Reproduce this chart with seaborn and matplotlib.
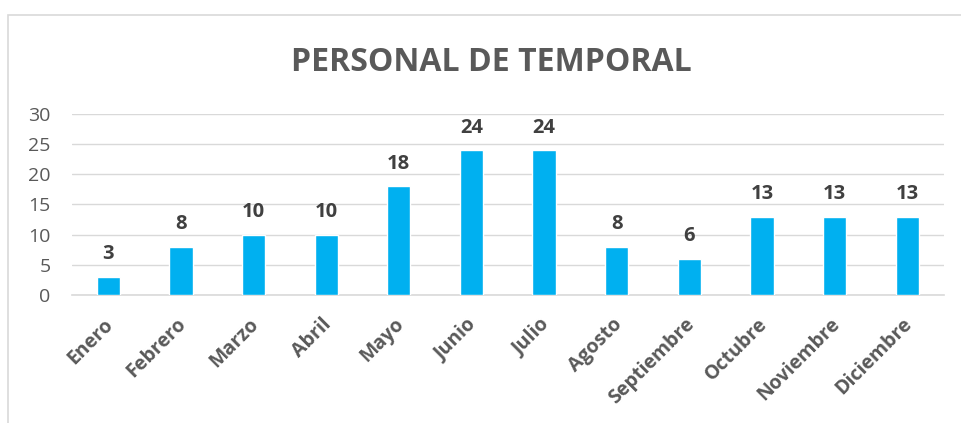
import matplotlib
matplotlib.use("Agg")
import matplotlib.pyplot as plt
import matplotlib.transforms as mtransforms
import seaborn as sns
import pandas as pd
from matplotlib.patches import Rectangle

meses = ["Enero", "Febrero", "Marzo", "Abril", "Mayo", "Junio", "Julio",
         "Agosto", "Septiembre", "Octubre", "Noviembre", "Diciembre"]
personal = [3, 8, 10, 10, 18, 24, 24, 8, 6, 13, 13, 13]
y_ticks = [0, 5, 10, 15, 20, 25, 30]

sns.set_style("white")
plt.rcParams["font.family"] = ["Open Sans", "DejaVu Sans"]

df = pd.DataFrame({"mes": meses, "personal": personal})

fig = plt.figure(figsize=(9.61, 4.23), dpi=100)
ax = fig.add_axes([0.0749, 0.3026, 0.907, 0.4279])

sns.barplot(data=df, x="mes", y="personal", color="#00B0F0", width=0.32,
            saturation=1, ax=ax, zorder=3)

ax.set_ylim(0, 30)
ax.set_yticks(y_ticks)
ax.set_xlim(-0.5, len(meses) - 0.5)
ax.yaxis.grid(True, color="#D9D9D9", linewidth=1, zorder=0)
for s in ["top", "right", "left"]:
    ax.spines[s].set_visible(False)
ax.spines["bottom"].set_color("#D9D9D9")
ax.spines["bottom"].set_linewidth(1.2)
ax.tick_params(axis="both", length=0)
ax.set_xlabel("")
ax.set_ylabel("")
ax.set_yticklabels([str(t) for t in y_ticks], fontsize=14, color="#595959")
ax.yaxis.set_tick_params(pad=15.5)

ax.set_xticks(range(len(meses)))
ax.set_xticklabels(meses, rotation=45, ha="right", rotation_mode="anchor",
                   fontsize=14, fontweight="bold", color="#595959")
ax.tick_params(axis="x", pad=14)
# nudge month labels a bit to the left, like the original
shift = mtransforms.ScaledTranslation(-5 / 100, 0, fig.dpi_scale_trans)
for lbl in ax.get_xticklabels():
    lbl.set_transform(lbl.get_transform() + shift)

for i, v in enumerate(personal):
    ax.annotate(str(v), (i, v), xytext=(0, 9), textcoords="offset points",
                ha="center", va="bottom", fontsize=14.5, fontweight="bold",
                color="#404040")

fig.text(0.511, 0.853, "PERSONAL DE TEMPORAL", ha="center", va="center",
         fontsize=23, fontweight="bold", color="#595959")

fig.patches.append(Rectangle((8 / 961, -0.1), 1.2, 1.1 - 15 / 423,
                             transform=fig.transFigure, fill=False,
                             edgecolor="#D9D9D9", linewidth=1.2))

fig.savefig("out.png", dpi=100)
